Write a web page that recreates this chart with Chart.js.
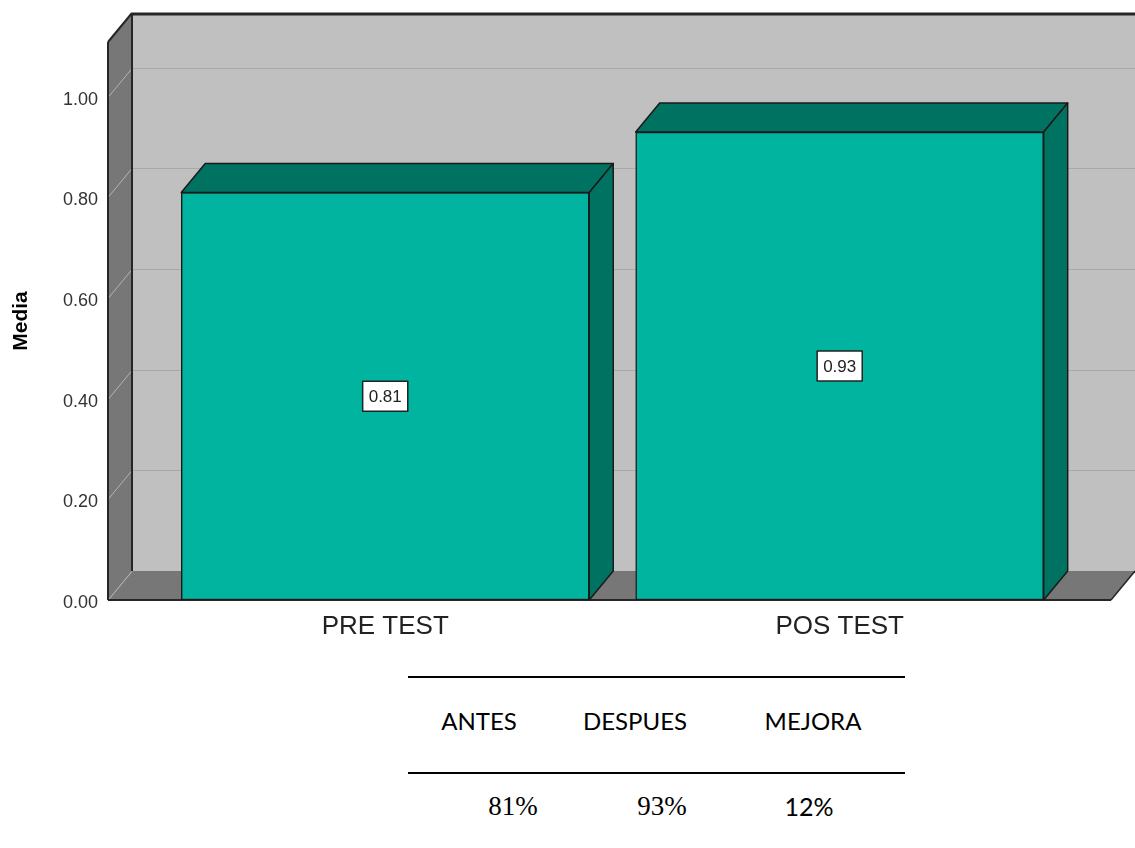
<!DOCTYPE html>
<html>
<head>
<meta charset="utf-8">
<script src="https://cdn.jsdelivr.net/npm/chart.js@4.4.1/dist/chart.umd.min.js"></script>
<style>
  body { margin: 0; background: #fff; width: 1135px; height: 848px; position: relative; overflow: hidden; }
  #wrap { position: absolute; left: 0; top: 0; width: 1135px; height: 650px; }
  .rule { position: absolute; left: 408px; width: 497px; height: 0; border-top: 2px solid #000; }
  .cell { position: absolute; transform: translate(-50%, -50%); white-space: nowrap; color: #000; }
  .head { font-family: Lato, "Open Sans", sans-serif; font-size: 24px; }
</style>
</head>
<body>
<div id="wrap"><canvas id="myChart" width="1135" height="650"></canvas></div>
<div id="table"></div>
<script>
// data
const categories = ['PRE TEST', 'POS TEST'];
const means = [0.81, 0.93];
const yTicks = [0, 0.2, 0.4, 0.6, 0.8, 1.0];

const tableHeaders = ['ANTES', 'DESPUES', 'MEJORA'];
const tableValues = ['81%', '93%', '12%'];
const valueFonts = ['"Liberation Serif", serif', '"Liberation Serif", serif', 'Lato, sans-serif'];
const valueSizes = [27, 27, 25];

// 3d depth of the box
const dx = 24;
const dy = -29;

const wallPlugin = {
    id: 'walls',
    beforeDatasetsDraw(chart) {
        const c = chart.ctx;
        const a = chart.chartArea;
        const y = chart.scales.y;
        const L = a.left, R = a.right, T = a.top, B = a.bottom;

        c.save();
        // back wall
        c.fillStyle = '#c0c0c0';
        c.fillRect(L + dx, T + dy, chart.width, B - T);

        // side wall
        c.fillStyle = '#777777';
        c.beginPath();
        c.moveTo(L, T); c.lineTo(L + dx, T + dy); c.lineTo(L + dx, B + dy); c.lineTo(L, B);
        c.closePath(); c.fill();

        // floor
        c.beginPath();
        c.moveTo(L, B); c.lineTo(L + dx, B + dy); c.lineTo(R + dx, B + dy); c.lineTo(R, B);
        c.closePath(); c.fill();

        // grid lines
        c.lineWidth = 1;
        yTicks.forEach(v => {
            const py = Math.round(y.getPixelForValue(v)) + 0.5;
            if (v > 0) {
                c.strokeStyle = '#a8a8a8';
                c.beginPath(); c.moveTo(L + dx, py + dy); c.lineTo(chart.width, py + dy); c.stroke();
            }
            c.strokeStyle = '#b4b4b4';
            c.beginPath(); c.moveTo(L, py); c.lineTo(L + dx, py + dy); c.stroke();
        });

        // edges
        c.strokeStyle = '#262626';
        c.lineWidth = 3;
        c.beginPath(); c.moveTo(L + dx, T + dy + 1); c.lineTo(chart.width, T + dy + 1); c.stroke();
        c.lineWidth = 2;
        c.beginPath(); c.moveTo(L + dx, T + dy); c.lineTo(L + dx, B + dy); c.stroke();
        c.beginPath(); c.moveTo(L, T); c.lineTo(L + dx, T + dy); c.stroke();
        c.beginPath(); c.moveTo(L, T); c.lineTo(L, B); c.stroke();
        c.beginPath(); c.moveTo(L, B); c.lineTo(R, B); c.stroke();
        c.lineWidth = 1.5;
        c.beginPath(); c.moveTo(R, B); c.lineTo(R + dx, B + dy); c.stroke();
        c.restore();
    },
    afterDatasetsDraw(chart) {
        const c = chart.ctx;
        const meta = chart.getDatasetMeta(0);
        c.save();
        c.lineJoin = 'round';
        meta.data.forEach((bar, i) => {
            const p = bar.getProps(['x', 'y', 'width', 'base'], true);
            const l = p.x - p.width / 2, r = p.x + p.width / 2;
            c.fillStyle = '#007262';
            c.strokeStyle = '#1a1a1a';
            c.lineWidth = 1.5;
            // top face
            c.beginPath();
            c.moveTo(l, p.y); c.lineTo(l + dx, p.y + dy); c.lineTo(r + dx, p.y + dy); c.lineTo(r, p.y);
            c.closePath(); c.fill(); c.stroke();
            // side face
            c.beginPath();
            c.moveTo(r, p.y); c.lineTo(r + dx, p.y + dy); c.lineTo(r + dx, p.base + dy); c.lineTo(r, p.base);
            c.closePath(); c.fill(); c.stroke();

            // value label
            const txt = means[i].toFixed(2);
            c.font = '17px "Liberation Sans", Arial, sans-serif';
            const w = c.measureText(txt).width + 12;
            const h = 30;
            const cy = (p.y + p.base) / 2;
            c.fillStyle = '#ffffff';
            c.fillRect(p.x - w / 2, cy - h / 2, w, h);
            c.strokeStyle = '#222';
            c.lineWidth = 1.5;
            c.strokeRect(p.x - w / 2, cy - h / 2, w, h);
            c.fillStyle = '#222';
            c.textAlign = 'center';
            c.textBaseline = 'middle';
            c.fillText(txt, p.x, cy + 1);
        });
        c.restore();
    }
};

const ctx = document.getElementById('myChart');

const chart = new Chart(ctx, {
    type: 'bar',
    data: {
        datasets: [{
            data: means.map((m, i) => ({ x: i, y: m })),
            backgroundColor: '#00b4a0',
            borderColor: '#1a1a1a',
            borderWidth: 1.5,
            borderSkipped: false,
            barThickness: 408
        }]
    },
    options: {
        responsive: false,
        animation: false,
        layout: { padding: { left: 0, right: 24, top: 42, bottom: 0 } },
        plugins: { legend: { display: false }, tooltip: { enabled: false } },
        scales: {
            x: {
                type: 'linear',
                offset: false,
                min: -0.61,
                max: 1.597,
                grid: { display: false, drawTicks: false, offset: false },
                border: { display: false },
                afterBuildTicks: s => { s.ticks = categories.map((c, i) => ({ value: i })); },
                afterFit: s => { s.height = 50; },
                ticks: {
                    callback: v => categories[v],
                    padding: 11,
                    color: '#222',
                    font: { family: '"Liberation Sans", Arial, sans-serif', size: 26 }
                }
            },
            y: {
                min: 0,
                max: 1.109,
                grid: { display: false, drawTicks: false },
                border: { display: false },
                afterBuildTicks: s => { s.ticks = yTicks.map(v => ({ value: v })); },
                afterFit: s => { s.width = 108; },
                ticks: {
                    callback: v => Number(v).toFixed(2),
                    padding: 10,
                    labelOffset: 3,
                    color: '#333',
                    font: { family: '"Liberation Sans", Arial, sans-serif', size: 18 }
                },
                title: {
                    display: true,
                    text: 'Media',
                    color: '#000',
                    padding: { top: 9, bottom: 0 },
                    font: { family: '"Liberation Sans", Arial, sans-serif', size: 21, weight: 'bold' }
                }
            }
        }
    },
    plugins: [wallPlugin]
});

// summary table under the chart
const table = document.getElementById('table');
const headX = [479, 635, 813];
const valX = [513, 662, 809];
let html = '<div class="rule" style="top:676px"></div><div class="rule" style="top:772px"></div>';
tableHeaders.forEach((h, i) => {
    html += `<div class="cell head" style="left:${headX[i]}px;top:720px">${h}</div>`;
});
tableValues.forEach((v, i) => {
    html += `<div class="cell" style="left:${valX[i]}px;top:806px;font-size:${valueSizes[i]}px;font-family:${valueFonts[i]}">${v}</div>`;
});
table.innerHTML = html;
</script>
</body>
</html>
